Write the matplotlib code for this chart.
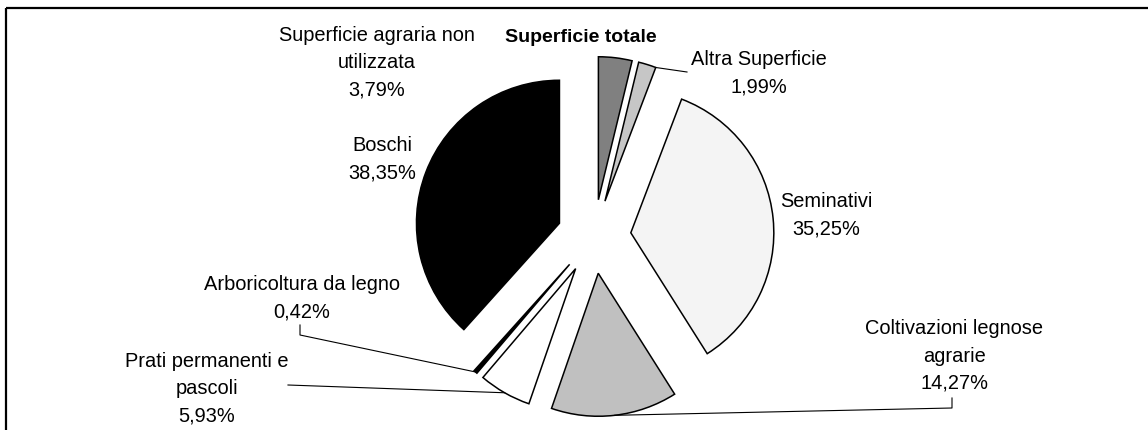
import matplotlib
matplotlib.use("Agg")
import matplotlib.pyplot as plt
import numpy as np

# ---- data ----
categories = ["Superficie agraria non\nutilizzata", "Altra Superficie", "Seminativi",
              "Coltivazioni legnose\nagrarie", "Prati permanenti e\npascoli",
              "Arboricoltura da legno", "Boschi"]
values = [3.79, 1.99, 35.25, 14.27, 5.93, 0.42, 38.35]
title = "Superficie totale"

# ---- style / layout ----
colors = ["#808080", "#c6c6c6", "#f4f4f4", "#c0c0c0", "#ffffff", "#000000", "#000000"]
W, H = 1148, 430
label_x = [377, 759, 826, 954, 207, 302, 382]
label_y = [63, 73, 215, 356, 389, 298, 159]

plt.rcParams['font.family'] = ['Liberation Sans', 'DejaVu Sans']

fig = plt.figure(figsize=(W / 100, H / 100), dpi=100)
ax = fig.add_axes([0, 0, 1, 1])
R = 143
wedges, _ = ax.pie(values, colors=colors, startangle=90, counterclock=False,
                   center=(594, H - 236.5), radius=R, explode=[37] * len(values),
                   wedgeprops=dict(edgecolor='black', linewidth=1.1),
                   normalize=True)
ax.set_xlim(0, W)
ax.set_ylim(0, H)
ax.axis('off')


def Y(py):
    return H - py


def arc_pt(w, ang):
    cx, cy = w.center
    a = np.deg2rad(ang)
    return cx + w.r * np.cos(a), cy + w.r * np.sin(a)


def mid(w):
    return 0.5 * (w.theta1 + w.theta2)


# labels
for cat, v, lx, ly in zip(categories, values, label_x, label_y):
    txt = f"{cat}\n{v:.2f}%".replace('.', ',')
    ax.text(lx, Y(ly), txt, ha='center', va='center', ma='center',
            fontsize=14.4, linespacing=1.55, color='black')

ax.text(581, Y(38), title, ha='center', va='center', fontsize=14,
        fontweight='bold', color='black')

lk = dict(color='black', lw=0.8, clip_on=False)
# Altra Superficie leader
p = arc_pt(wedges[1], wedges[1].theta1)
ax.plot([p[0], 687], [p[1], Y(72)], **lk)
# Coltivazioni leader
p = arc_pt(wedges[3], mid(wedges[3]))
ax.plot([p[0], 952, 952], [p[1], Y(408), Y(398)], **lk)
# Prati leader
p = arc_pt(wedges[4], mid(wedges[4]))
ax.plot([p[0], 288], [p[1], Y(385)], **lk)
# Arboricoltura leader
p = arc_pt(wedges[5], mid(wedges[5]))
ax.plot([p[0], 300, 300], [p[1], Y(335), Y(325)], **lk)

# frame (top and left edges)
ax.plot([6, W], [Y(8), Y(8)], color='black', lw=1.6, clip_on=False, solid_capstyle='butt')
ax.plot([6, 6], [Y(8), 0], color='black', lw=1.6, clip_on=False, solid_capstyle='butt')

fig.savefig("out.png", dpi=100)
